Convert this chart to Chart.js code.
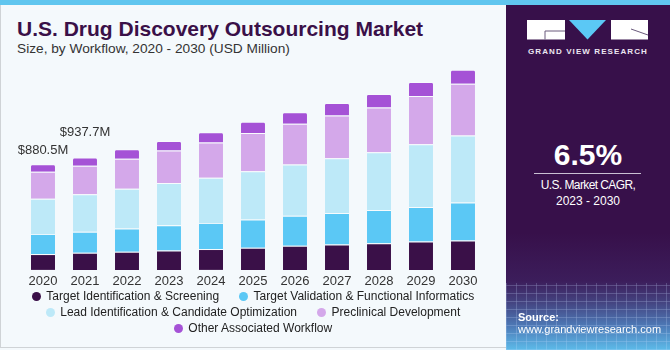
<!DOCTYPE html>
<html>
<head>
<meta charset="utf-8">
<script src="https://cdn.jsdelivr.net/npm/chart.js@4.4.0/dist/chart.umd.min.js"></script>
<style>
  html, body { margin:0; padding:0; }
  body { width:670px; height:350px; overflow:hidden; position:relative; background:#f4f9fc;
         font-family:'Liberation Sans', Arial, sans-serif; }
  #frame { position:absolute; left:0; top:0; width:668px; height:347px; border:1px solid #cfd3d6; border-top:none; }
  #strip { position:absolute; left:0; top:0; width:670px; height:5px; background:#60c6ef; }
  #title { position:absolute; left:17px; top:18px; font-size:21px; line-height:1; font-weight:bold; color:#3a1048; white-space:nowrap; }
  #sub { position:absolute; left:17px; top:42px; font-size:13.7px; line-height:1; color:#333; white-space:nowrap; }
  #chart { position:absolute; left:0; top:60px; }
  #legend { position:absolute; left:0; top:289px; width:506px; display:flex; flex-wrap:wrap; justify-content:center;
            column-gap:20px; font-size:12px; line-height:15.8px; color:#222; }
  .item { display:flex; align-items:center; white-space:nowrap; }
  .dot { width:9px; height:9px; border-radius:50%; margin-right:5.5px; }
  #panel { position:absolute; left:506px; top:5px; width:164px; height:345px; overflow:hidden;
           background:linear-gradient(180deg, #37104a 0%, #37104a 66%, #3c1d5b 80%, #44427f 86%, #4d79b6 93%, #5dbbe9 100%); }
  #grid { position:absolute; left:0; top:278px; width:164px; height:67px; opacity:0.5;
          background:
            repeating-linear-gradient(90deg, rgba(200,220,255,0.45) 0 1px, transparent 1px 10px),
            repeating-linear-gradient(0deg, rgba(200,220,255,0.45) 0 1px, transparent 1px 8px); }
  .ptxt { position:absolute; left:0; width:164px; text-align:center; color:#fff; line-height:1; white-space:nowrap; }
  #gvr { top:43px; font-size:8px; font-weight:bold; letter-spacing:1.1px; color:#ece6f1; }
  #cagr { top:135px; font-size:30px; font-weight:bold; }
  #rule { position:absolute; left:28px; top:168px; width:107px; height:1px; background:#c9c0d3; }
  #cl1 { top:173.5px; font-size:12px; letter-spacing:-0.6px; }
  #cl2 { top:189.5px; font-size:12px; }
  .src { position:absolute; left:12px; color:#fff; line-height:1; font-size:11px; white-space:nowrap; }
  #src1 { top:306.5px; font-weight:bold; }
  #src2 { top:318.5px; }
</style>
</head>
<body>
<div id="frame"></div>
<div id="strip"></div>
<div id="title">U.S. Drug Discovery Outsourcing Market</div>
<div id="sub">Size, by Workflow, 2020 - 2030 (USD Million)</div>
<canvas id="chart" width="506" height="235"></canvas>
<div id="legend"></div>
<div id="panel">
  <svg style="position:absolute;left:21px;top:15px" width="122" height="20">
    <rect x="0" y="0" width="38" height="19.5" fill="#fff"/>
    <path d="M18 11 H38 M18 11 V19.5" stroke="#6a5a7c" stroke-width="1" fill="none"/>
    <polygon points="42,0 79,0 60.5,19.5" fill="#5bc8f5"/>
    <rect x="84" y="0" width="37" height="19.5" fill="#fff"/>
    <path d="M104 9 L121 15" stroke="#6a5a7c" stroke-width="1" fill="none"/>
  </svg>
  <div class="ptxt" id="gvr">GRAND VIEW RESEARCH</div>
  <div class="ptxt" id="cagr">6.5%</div>
  <div id="rule"></div>
  <div class="ptxt" id="cl1">U.S. Market CAGR,</div>
  <div class="ptxt" id="cl2">2023 - 2030</div>
  <div id="grid"></div>
  <div class="src" id="src1">Source:</div>
  <div class="src" id="src2">www.grandviewresearch.com</div>
</div>
<script>
var years = ["2020","2021","2022","2023","2024","2025","2026","2027","2028","2029","2030"];
var seriesNames = ["Target Identification & Screening","Target Validation & Functional Informatics",
  "Lead Identification & Candidate Optimization","Preclinical Development","Other Associated Workflow"];
var seriesColors = ["#3a1048","#5bc8f5","#bde9f8","#d4a8ea","#a552d6"];
var targetId   = [132, 142, 151, 162, 174, 184, 201, 212, 223, 237, 246];
var targetVal  = [168, 176, 195, 210, 218, 237, 251, 262, 277, 287, 316];
var leadOpt    = [294, 312, 330, 352, 377, 402, 427, 456, 481, 523, 558];
var preclin    = [224, 238, 251, 272, 293, 318, 340, 357, 374, 402, 431];
var otherWf    = [62.5, 69.7, 78, 78, 86, 95, 96, 104, 112, 117, 117];
var totalLabels = ["$880.5M", "$937.7M"];

var allSeries = [targetId, targetVal, leadOpt, preclin, otherWf];

function build_datasets(){
	var ds=[];
	for(var i=0;i<allSeries.length;i++){
		ds.push({
			label: seriesNames[i],
			data: allSeries[i],
			backgroundColor: seriesColors[i],
			borderColor: 'rgba(255,255,255,0.35)',
			borderWidth: {top: 1},
			borderSkipped: 'start',
			borderRadius: 2,
			categoryPercentage: 1,
			barPercentage: 0.571
		});
	}
	return ds;
}

// value labels above first two bars
var topLabels = {
	id: 'topLabels',
	afterDatasetsDraw: function(chart){
		var ctx = chart.ctx;
		var meta = chart.getDatasetMeta(allSeries.length-1);
		var lift = [10, 21.5];
		ctx.save();
		ctx.font = '13px "Liberation Sans", Arial, sans-serif';
		ctx.fillStyle = '#333';
		ctx.textAlign = 'center';
		ctx.textBaseline = 'alphabetic';
		for(var i=0;i<totalLabels.length;i++){
			var bar = meta.data[i];
			ctx.fillText(totalLabels[i], bar.x, bar.y - lift[i]);
		}
		ctx.restore();
	}
};

var ctx1 = document.getElementById("chart").getContext('2d');
var myChart1 = new Chart(ctx1, {
	type: 'bar',
	data: { labels: years, datasets: build_datasets() },
	options: {
		responsive: false,
		animation: false,
		layout: { padding: { left: 22, right: 22, top: 0, bottom: 1.5 } },
		plugins: { legend: { display: false }, tooltip: { enabled: false } },
		scales: {
			x: {
				stacked: true,
				grid: { display: false, drawTicks: false },
				border: { display: false },
				ticks: { color: '#333', font: { size: 13, family: '"Liberation Sans", Arial, sans-serif' }, padding: 4 }
			},
			y: { stacked: true, display: false, min: 0, max: 1750 }
		}
	},
	plugins: [topLabels]
});

// html legend
var html='';
for(var i=0;i<seriesNames.length;i++){
	html += '<div class="item"><span class="dot" style="background:'+seriesColors[i]+'"></span>'+
		seriesNames[i].replace('&','&amp;')+'</div>';
}
document.getElementById('legend').innerHTML = html;
</script>
</body>
</html>
